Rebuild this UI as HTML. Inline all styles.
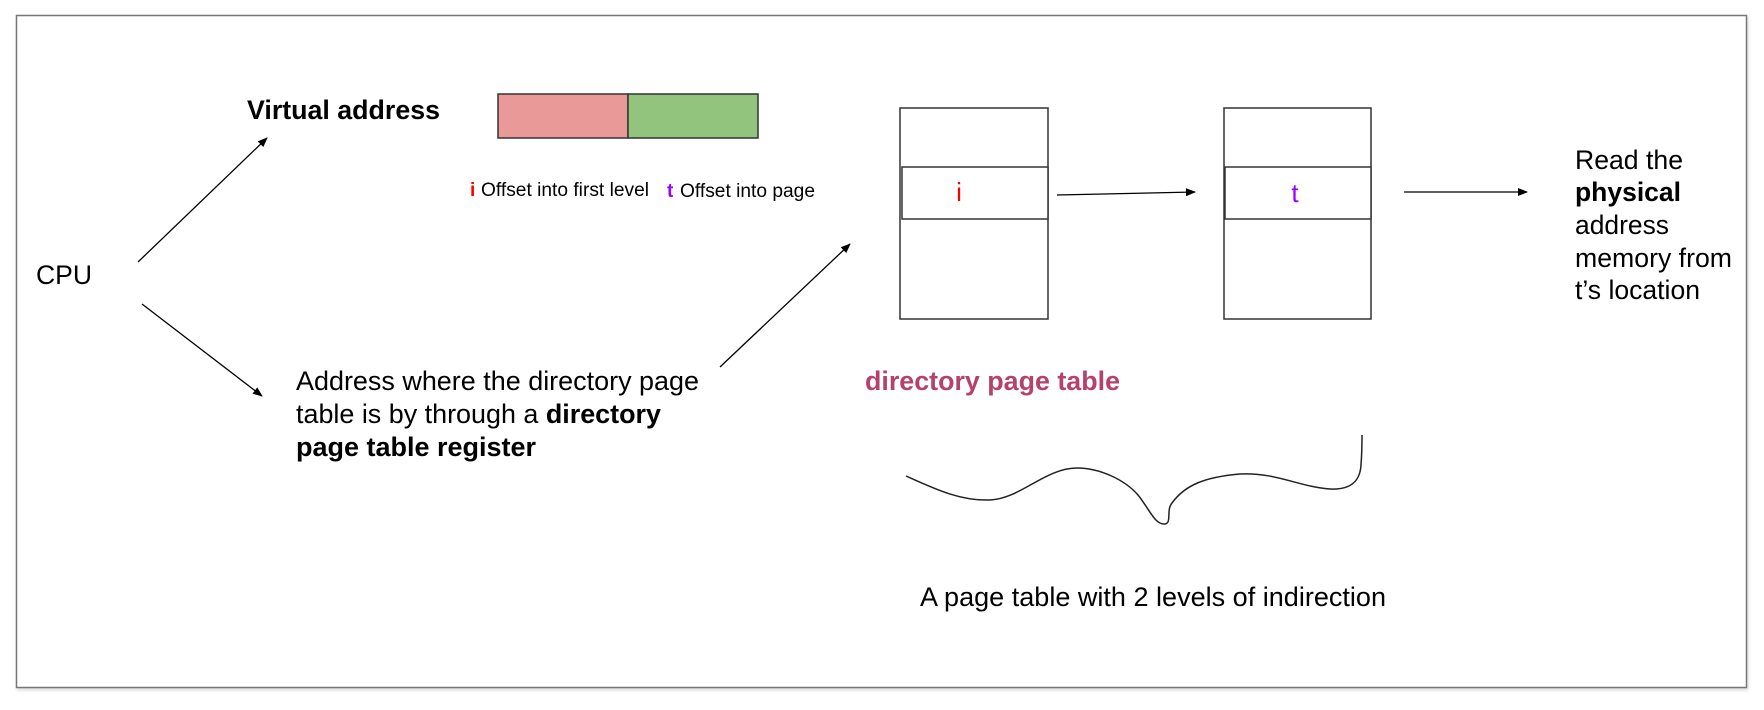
<!DOCTYPE html>
<html><head><meta charset="utf-8"><style>
html,body{margin:0;padding:0;background:#fff;width:1764px;height:710px;overflow:hidden}
svg{display:block}
text{font-family:"Liberation Sans",Arial,sans-serif;fill:#000}
</style></head><body>
<svg width="1764" height="710" viewBox="0 0 1764 710" xmlns="http://www.w3.org/2000/svg">
<defs>
<marker id="ah" markerWidth="10" markerHeight="8" refX="9" refY="4" orient="auto" markerUnits="userSpaceOnUse"><path d="M0,0 L10,4 L0,8 z" fill="#000"/></marker>
<filter id="sh" x="-5%" y="-5%" width="110%" height="110%"><feDropShadow dx="1" dy="2" stdDeviation="1.5" flood-color="#000" flood-opacity="0.15"/></filter>
</defs>
<rect x="16.5" y="15.5" width="1730" height="672" fill="#fff" stroke="#777" stroke-width="1.5" filter="url(#sh)"/>

<text x="36" y="284" font-size="27" textLength="56" lengthAdjust="spacingAndGlyphs">CPU</text>
<text x="247" y="119" font-size="27" font-weight="bold" textLength="193" lengthAdjust="spacingAndGlyphs">Virtual address</text>

<rect x="498" y="94" width="130" height="44" fill="#ea9999" stroke="#333" stroke-width="1.5"/>
<rect x="628" y="94" width="130" height="44" fill="#93c47d" stroke="#333" stroke-width="1.5"/>

<text x="470" y="196" font-size="19" font-weight="bold" style="fill:#ff0000">i</text>
<text x="481" y="196" font-size="19" textLength="168" lengthAdjust="spacingAndGlyphs">Offset into first level</text>
<text x="667" y="197" font-size="19" font-weight="bold" style="fill:#9900ff">t</text>
<text x="680" y="197" font-size="19" textLength="135" lengthAdjust="spacingAndGlyphs">Offset into page</text>

<text x="296" y="390" font-size="27" textLength="403" lengthAdjust="spacingAndGlyphs">Address where the directory page</text>
<text x="296" y="423" font-size="27" textLength="365" lengthAdjust="spacingAndGlyphs">table is by through a <tspan font-weight="bold">directory</tspan></text>
<text x="296" y="456" font-size="27" font-weight="bold" textLength="240" lengthAdjust="spacingAndGlyphs">page table register</text>

<line x1="138" y1="262" x2="267" y2="138" stroke="#000" stroke-width="1.3" marker-end="url(#ah)"/>
<line x1="142" y1="304" x2="262" y2="396" stroke="#000" stroke-width="1.3" marker-end="url(#ah)"/>
<line x1="720" y1="367" x2="850" y2="244" stroke="#000" stroke-width="1.3" marker-end="url(#ah)"/>

<rect x="900" y="108" width="148" height="211" fill="#fff" stroke="#333" stroke-width="1.5"/>
<rect x="902" y="167" width="146" height="52" fill="#fff" stroke="#333" stroke-width="1.5"/>
<text x="959" y="201" font-size="26" style="fill:#ff0000" text-anchor="middle">i</text>

<rect x="1224" y="108" width="147" height="211" fill="#fff" stroke="#333" stroke-width="1.5"/>
<rect x="1225" y="167" width="146" height="52" fill="#fff" stroke="#333" stroke-width="1.5"/>
<text x="1295" y="202" font-size="26" style="fill:#9900ff" text-anchor="middle">t</text>

<line x1="1057" y1="195" x2="1195" y2="192" stroke="#000" stroke-width="1.3" marker-end="url(#ah)"/>
<line x1="1404" y1="192" x2="1527" y2="192" stroke="#000" stroke-width="1.3" marker-end="url(#ah)"/>

<text x="1575" y="169" font-size="27" textLength="108" lengthAdjust="spacingAndGlyphs">Read the</text>
<text x="1575" y="201" font-size="27" font-weight="bold" textLength="106" lengthAdjust="spacingAndGlyphs">physical</text>
<text x="1575" y="234" font-size="27" textLength="94" lengthAdjust="spacingAndGlyphs">address</text>
<text x="1575" y="267" font-size="27" textLength="157" lengthAdjust="spacingAndGlyphs">memory from</text>
<text x="1575" y="299" font-size="27" textLength="125" lengthAdjust="spacingAndGlyphs">t’s location</text>

<text x="865" y="390" font-size="27" font-weight="bold" style="fill:#b5426a" textLength="255" lengthAdjust="spacingAndGlyphs">directory page table</text>

<path d="M906,476 C935,489 960,501 990,500 C1020,499 1045,468 1077,468 C1100,468 1125,480 1138,495 C1150,510 1155,525 1165,524 C1172,523 1166,510 1172,503 C1185,485 1205,477 1240,474 C1275,472 1300,487 1330,489 C1350,490 1360,482 1361,465 C1362,452 1362,440 1362,435" fill="none" stroke="#222" stroke-width="1.5"/>

<text x="920" y="606" font-size="27" textLength="466" lengthAdjust="spacingAndGlyphs">A page table with 2 levels of indirection</text>
</svg>
</body></html>
